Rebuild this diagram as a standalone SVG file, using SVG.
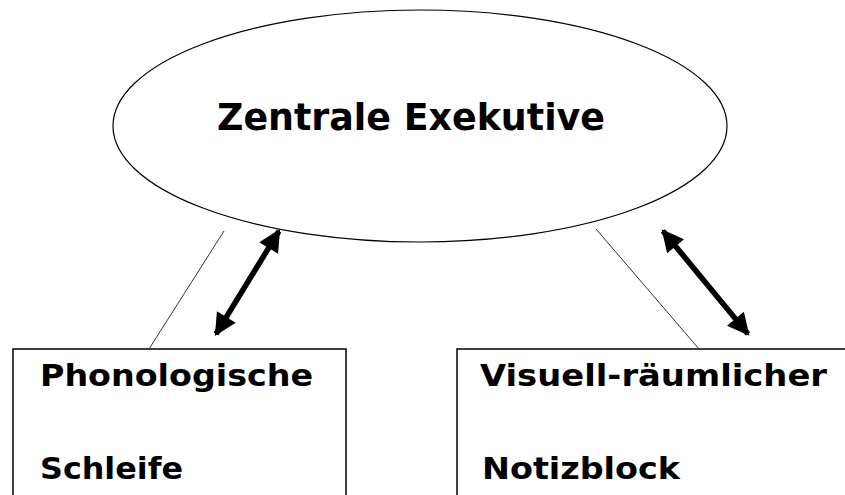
<svg xmlns="http://www.w3.org/2000/svg" width="845" height="495" viewBox="0 0 845 495">
<style>
.t{font-family:"DejaVu Sans Condensed","DejaVu Sans",Verdana,sans-serif;font-weight:bold;fill:#000}
.box{fill:#fff;stroke:#000;stroke-width:1.5}
.thin{stroke:#333;stroke-width:1;fill:none}
.arr{stroke:#000;stroke-width:5.5;fill:none;marker-start:url(#ah);marker-end:url(#ah)}
</style>
<defs>
<marker id="ah" viewBox="0 0 10 10" refX="9" refY="5" markerWidth="4.2" markerHeight="4" orient="auto-start-reverse" markerUnits="strokeWidth">
<path d="M0,0 L10,5 L0,10 z" fill="#000"/>
</marker>
</defs>
<rect width="845" height="495" fill="#fff"/>
<g id="zentrale">
<ellipse cx="420" cy="126" rx="307" ry="116" fill="#fff" stroke="#000" stroke-width="1.2"/>
<text class="t" x="217" y="130" font-size="38" textLength="388" lengthAdjust="spacingAndGlyphs">Zentrale Exekutive</text>
</g>
<g id="phonologisch">
<rect class="box" x="13" y="349" width="333" height="160"/>
<text class="t" x="40" y="386" font-size="30" textLength="273" lengthAdjust="spacingAndGlyphs">Phonologische</text>
<text class="t" x="40" y="479" font-size="30" textLength="143" lengthAdjust="spacingAndGlyphs">Schleife</text>
</g>
<g id="visuell">
<rect class="box" x="457" y="349" width="400" height="160"/>
<text class="t" x="480" y="386" font-size="30" textLength="347" lengthAdjust="spacingAndGlyphs">Visuell-räumlicher</text>
<text class="t" x="482" y="479" font-size="30" textLength="198" lengthAdjust="spacingAndGlyphs">Notizblock</text>
</g>
<g id="connectors">
<line class="thin" x1="224" y1="231" x2="149" y2="349"/>
<line class="thin" x1="596" y1="229" x2="699" y2="349"/>
<line class="arr" x1="279" y1="231" x2="216" y2="334"/>
<line class="arr" x1="663" y1="231" x2="748" y2="334"/>
</g>
</svg>
